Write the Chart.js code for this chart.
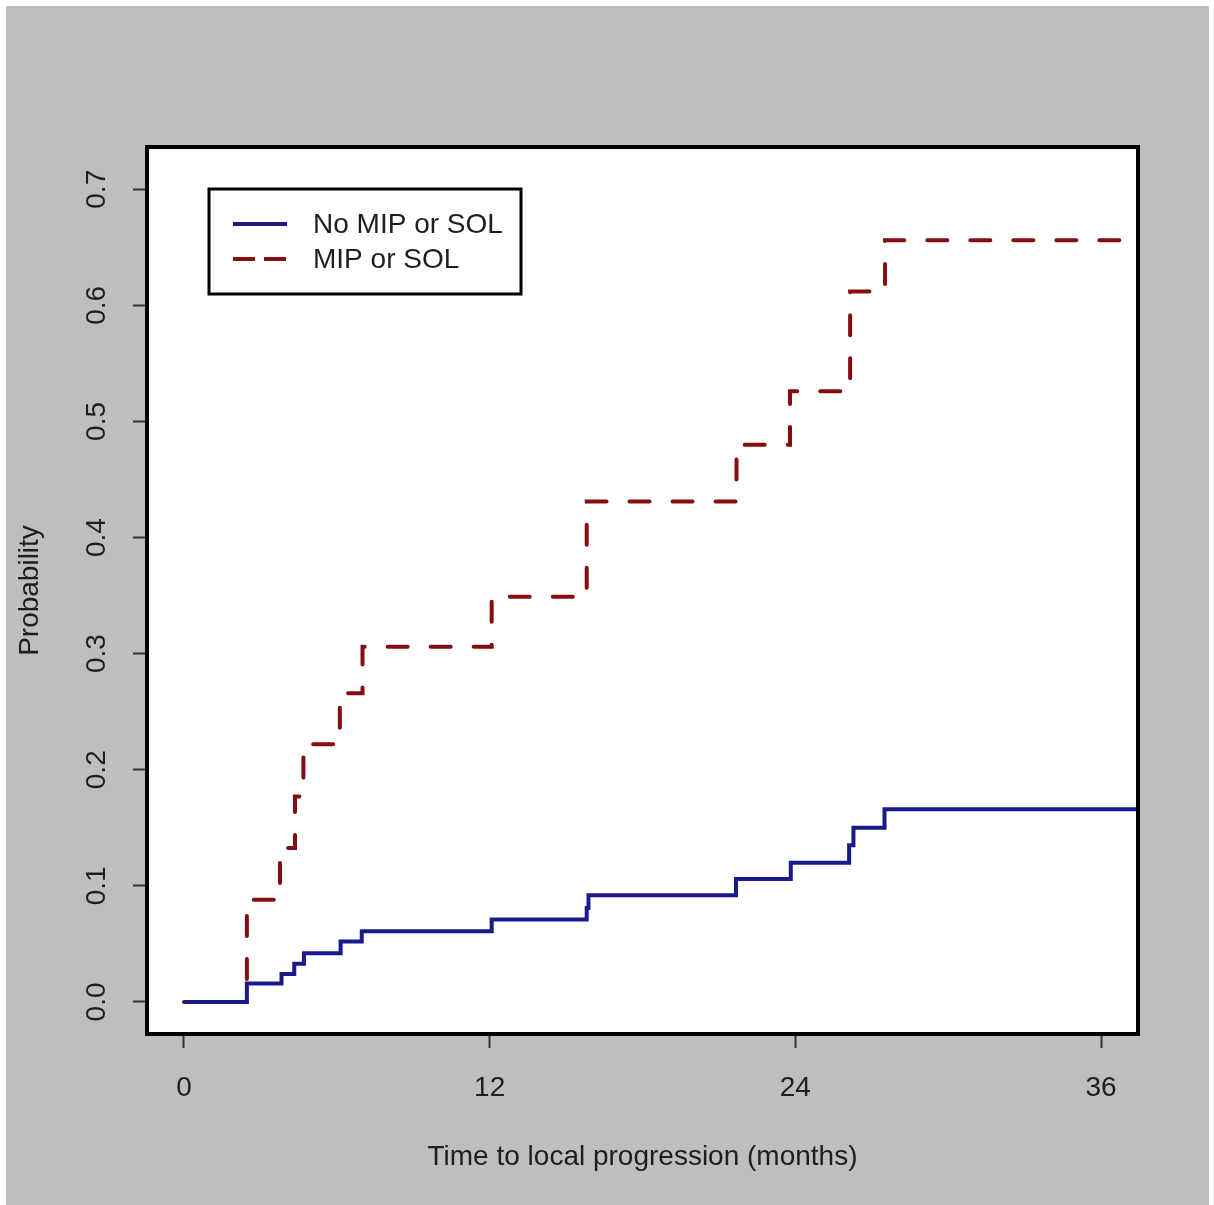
<!DOCTYPE html>
<html>
<head>
<meta charset="utf-8">
<script src="https://cdn.jsdelivr.net/npm/chart.js@4.4.1/dist/chart.umd.min.js"></script>
<style>
  body { margin: 0; background: #ffffff; }
  canvas { display: block; }
</style>
</head>
<body>
<canvas id="myChart" width="1214" height="1205"></canvas>
<script>
const seriesLabels = ["No MIP or SOL", "MIP or SOL"];

// cumulative probability of local progression, steps
const noMipTimes = [0, 2.47, 3.83, 4.33, 4.71, 6.15, 6.98, 12.08, 15.81, 15.88, 21.67, 23.82, 26.11, 26.28, 27.5, 37.6];
const noMipProbs = [0, 0.016, 0.024, 0.033, 0.042, 0.052, 0.061, 0.071, 0.081, 0.092, 0.106, 0.120, 0.135, 0.150, 0.166, 0.166];

const mipTimes = [0, 2.47, 3.77, 4.36, 4.69, 6.12, 7.01, 12.08, 15.81, 21.69, 23.79, 26.15, 27.52, 37.6];
const mipProbs = [0, 0.088, 0.1325, 0.177, 0.222, 0.266, 0.306, 0.349, 0.431, 0.480, 0.526, 0.612, 0.656, 0.656];

const xTicks = [0, 12, 24, 36];
const yTicks = [0, 0.1, 0.2, 0.3, 0.4, 0.5, 0.6, 0.7];

const xTitle = "Time to local progression (months)";
const yTitle = "Probability";

const fontFamily = "'Liberation Sans', Arial, Helvetica, sans-serif";
const textColor = "#1e1e1e";

const toPoints = (times, probs) => times.map((t, i) => ({ x: t, y: probs[i] }));

const backgroundPlugin = {
  id: "background",
  beforeDraw: (chart) => {
    const { ctx, chartArea } = chart;
    ctx.save();
    ctx.fillStyle = "#ffffff";
    ctx.fillRect(0, 0, chart.width, chart.height);
    ctx.fillStyle = "#bebebe";
    ctx.fillRect(6, 6, 1203, chart.height - 6);
    ctx.fillStyle = "#ffffff";
    ctx.fillRect(chartArea.left, chartArea.top, chartArea.right - chartArea.left, chartArea.bottom - chartArea.top);
    ctx.restore();
  },
};

const boxLegendPlugin = {
  id: "boxLegend",
  afterDraw: (chart) => {
    const { ctx, chartArea } = chart;
    ctx.save();
    // plot box
    ctx.strokeStyle = "#000000";
    ctx.lineWidth = 4;
    ctx.strokeRect(chartArea.left, chartArea.top, chartArea.right - chartArea.left, chartArea.bottom - chartArea.top);

    // legend box, top-left inside the plot
    const lx = chartArea.left + 62;
    const ly = chartArea.top + 42;
    ctx.fillStyle = "#ffffff";
    ctx.fillRect(lx, ly, 312, 105);
    ctx.lineWidth = 3;
    ctx.strokeRect(lx, ly, 312, 105);

    chart.data.datasets.forEach((ds, i) => {
      const y = ly + 35 + i * 35;
      ctx.beginPath();
      ctx.strokeStyle = ds.borderColor;
      ctx.lineWidth = ds.borderWidth;
      ctx.lineCap = "butt";
      ctx.setLineDash(ds.borderDash ? [22, 9] : []);
      ctx.moveTo(lx + 24, y);
      ctx.lineTo(lx + 78, y);
      ctx.stroke();
      ctx.setLineDash([]);
      ctx.fillStyle = textColor;
      ctx.font = `28px ${fontFamily}`;
      ctx.textBaseline = "middle";
      ctx.textAlign = "left";
      ctx.fillText(ds.label, lx + 104, y + 1);
    });
    ctx.restore();
  },
};

const datasets = [
  {
    label: seriesLabels[0],
    data: toPoints(noMipTimes, noMipProbs),
    borderColor: "#1a1a8c",
    borderWidth: 4,
    stepped: true,
    pointRadius: 0,
    fill: false,
  },
  {
    label: seriesLabels[1],
    data: toPoints(mipTimes, mipProbs),
    borderColor: "#850c10",
    borderWidth: 4,
    borderDash: [20, 23],
    borderCapStyle: "round",
    stepped: true,
    pointRadius: 0,
    fill: false,
  },
];

const config = {
  type: "line",
  data: { datasets },
  options: {
    responsive: false,
    animation: false,
    devicePixelRatio: 1,
    layout: { padding: { left: 0, top: 147, right: 76, bottom: 0 } },
    plugins: {
      legend: { display: false },
      tooltip: { enabled: false },
    },
    scales: {
      x: {
        type: "linear",
        min: -1.45,
        max: 37.45,
        afterBuildTicks: (scale) => {
          scale.ticks = xTicks.map((v) => ({ value: v }));
        },
        afterFit: (scale) => {
          scale.height = 171;
        },
        grid: {
          drawOnChartArea: false,
          drawTicks: true,
          tickLength: 14,
          tickWidth: 2,
          tickColor: "#333333",
        },
        border: { display: false },
        ticks: {
          padding: 23,
          color: textColor,
          font: { family: fontFamily, size: 28 },
          maxRotation: 0,
          autoSkip: false,
          callback: (v) => String(v),
        },
        title: {
          display: true,
          text: xTitle,
          color: textColor,
          font: { family: fontFamily, size: 28 },
          padding: { top: 0, bottom: 31 },
        },
      },
      y: {
        type: "linear",
        min: -0.0276,
        max: 0.7364,
        afterBuildTicks: (scale) => {
          scale.ticks = yTicks.map((v) => ({ value: v }));
        },
        afterFit: (scale) => {
          scale.width = 147;
        },
        grid: {
          drawOnChartArea: false,
          drawTicks: true,
          tickLength: 14,
          tickWidth: 2,
          tickColor: "#333333",
        },
        border: { display: false },
        ticks: {
          padding: 16,
          color: textColor,
          font: { family: fontFamily, size: 28 },
          minRotation: 90,
          maxRotation: 90,
          crossAlign: "center",
          autoSkip: false,
          callback: (v) => Number(v).toFixed(1),
        },
        title: {
          display: true,
          text: yTitle,
          color: textColor,
          font: { family: fontFamily, size: 28 },
          padding: { top: 13, bottom: 0 },
        },
      },
    },
  },
  plugins: [backgroundPlugin, boxLegendPlugin],
};

const chart = document.querySelector("#myChart");
const myChart = new Chart(chart, config);
</script>
</body>
</html>
